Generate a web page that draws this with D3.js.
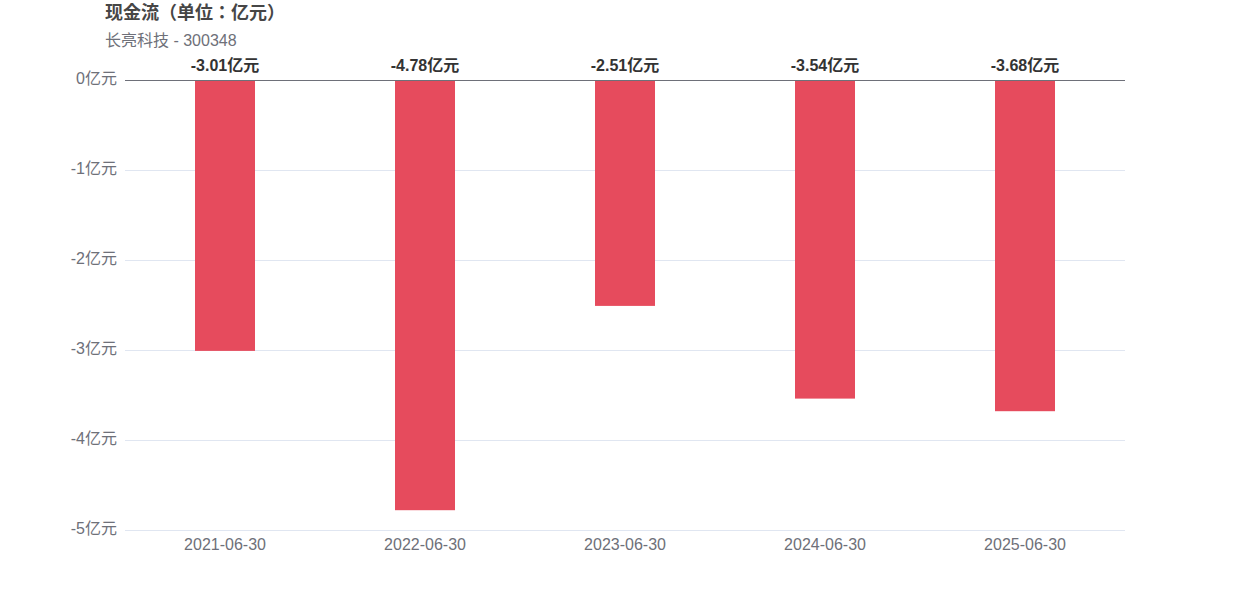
<!DOCTYPE html>
<html><head><meta charset="utf-8">
<script src="https://cdn.jsdelivr.net/npm/d3@7"></script>
<style>body{margin:0;background:#fff;font-family:"Liberation Sans","Noto Sans CJK SC",sans-serif;}</style>
</head><body>
<svg id="c" width="1250" height="600"></svg>
<script>
const categories = ["2021-06-30","2022-06-30","2023-06-30","2024-06-30","2025-06-30"];
const values = [-3.01,-4.78,-2.51,-3.54,-3.68];
const yTicks = [0,-1,-2,-3,-4,-5];
const title = "现金流（单位：亿元）";
const subtitle = "长亮科技 - 300348";
const unit = "亿元";

const svg = d3.select("#c");
const font = '"Liberation Sans","Noto Sans CJK SC",sans-serif';
const x = d3.scaleBand().domain(categories).range([125,1125]);
const y = d3.scaleLinear().domain([-5,0]).range([530,80]);

// grid
svg.append("g").selectAll("line").data(yTicks.filter(d=>d!==0)).join("line")
  .attr("x1",125).attr("x2",1125).attr("y1",d=>y(d)+0.5).attr("y2",d=>y(d)+0.5)
  .attr("stroke","#e0e6f1").attr("stroke-width",1);

// y labels
svg.append("g").selectAll("text").data(yTicks).join("text")
  .attr("x",117).attr("y",d=>y(d)-2).attr("dy","0.35em").attr("text-anchor","end")
  .attr("font-size",16).attr("fill","#6e7079").attr("font-family",font)
  .text(d=>d+unit);

// bars
const bw = 60;
svg.append("g").selectAll("rect").data(values).join("rect")
  .attr("x",(d,i)=>x(categories[i])+x.bandwidth()/2-bw/2)
  .attr("width",bw)
  .attr("y",y(0))
  .attr("height",d=>y(d)-y(0))
  .attr("fill","#e64b5d");

// zero axis line
svg.append("line").attr("x1",125).attr("x2",1125).attr("y1",y(0)+0.5).attr("y2",y(0)+0.5)
  .attr("stroke","#6e7079").attr("stroke-width",1);

// value labels
svg.append("g").selectAll("text").data(values).join("text")
  .attr("x",(d,i)=>x(categories[i])+x.bandwidth()/2).attr("y",65).attr("dy","0.35em")
  .attr("text-anchor","middle").attr("font-size",16).attr("font-weight","bold")
  .attr("fill","#333").attr("font-family",font)
  .text(d=>d.toFixed(2)+unit);

// x labels
svg.append("g").selectAll("text").data(categories).join("text")
  .attr("x",d=>x(d)+x.bandwidth()/2).attr("y",544).attr("dy","0.35em")
  .attr("text-anchor","middle").attr("font-size",16).attr("fill","#6e7079").attr("font-family",font)
  .text(d=>d);

svg.append("text").attr("x",105).attr("y",13).attr("dy","0.35em")
  .attr("font-size",18).attr("font-weight","bold").attr("fill","#464646")
  .attr("font-family",'"Noto Sans CJK JP","Noto Sans CJK SC",sans-serif').text(title);
svg.append("text").attr("x",105).attr("y",40).attr("dy","0.35em")
  .attr("font-size",16).attr("fill","#6e7079").attr("font-family",font).text(subtitle);
</script>
</body></html>
